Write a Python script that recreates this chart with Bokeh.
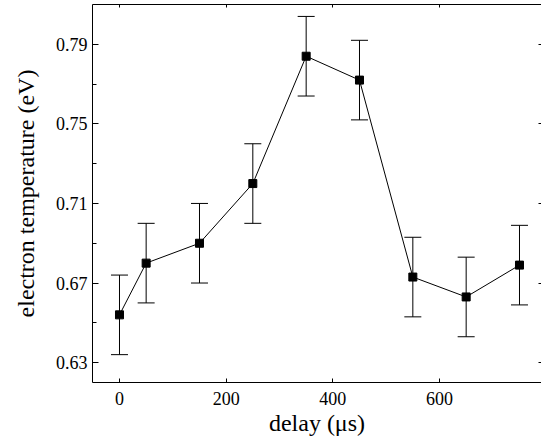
from bokeh.plotting import figure
from bokeh.models import (ColumnDataSource, Whisker, TeeHead, FixedTicker,
                          LinearAxis, PrintfTickFormatter, Range1d)
from bokeh.embed import file_html
from bokeh.resources import INLINE

# data
delay = [0, 50, 150, 250, 350, 450, 550, 650, 750]
temperature = [0.654, 0.680, 0.690, 0.720, 0.784, 0.772, 0.673, 0.663, 0.679]
error = [0.020, 0.020, 0.020, 0.020, 0.020, 0.020, 0.020, 0.020, 0.020]

x_ticks = [0, 200, 400, 600]
y_ticks = [0.63, 0.67, 0.71, 0.75, 0.79]
y_minor = [0.65, 0.69, 0.73, 0.77]

src = ColumnDataSource(data=dict(
    x=delay, y=temperature,
    upper=[t + e for t, e in zip(temperature, error)],
    lower=[t - e for t, e in zip(temperature, error)],
))

FONT = "'Liberation Serif', 'Times New Roman', serif"

p = figure(width=541, height=438, output_backend="svg", toolbar_location=None,
           x_range=Range1d(-50.6, 791.25), y_range=Range1d(0.62, 0.81),
           min_border_left=92, min_border_right=0, min_border_top=4,
           min_border_bottom=54, background_fill_color="white",
           border_fill_color="white")
p.outline_line_color = None
p.grid.visible = False

# error bars
wh = Whisker(source=src, base="x", upper="upper", lower="lower",
             line_color="black", line_width=1,
             upper_head=TeeHead(size=17, line_color="black", line_width=1),
             lower_head=TeeHead(size=17, line_color="black", line_width=1))
p.add_layout(wh)

p.line("x", "y", source=src, line_color="black", line_width=1)
p.scatter("x", "y", source=src, marker="square", size=8,
          fill_color="black", line_color="black")

# bottom axis
xa = p.xaxis[0]
xa.ticker = FixedTicker(ticks=x_ticks)
xa.major_tick_in = 4
xa.major_tick_out = 0
xa.minor_tick_in = 0
xa.minor_tick_out = 0
xa.major_label_standoff = 9
xa.major_label_text_font = FONT
xa.major_label_text_font_size = "18px"
xa.major_label_text_color = "black"
xa.axis_label = "delay (μs)"
xa.axis_label_text_font = FONT
xa.axis_label_text_font_size = "24px"
xa.axis_label_text_font_style = "normal"
xa.axis_label_text_color = "black"
xa.axis_label_standoff = 2
xa.axis_line_color = "black"
xa.major_tick_line_color = "black"

# left axis
ya = p.yaxis[0]
ya.ticker = FixedTicker(ticks=y_ticks, minor_ticks=y_minor)
ya.formatter = PrintfTickFormatter(format="%.2f")
ya.major_tick_in = 6
ya.major_tick_out = 0
ya.minor_tick_in = 4
ya.minor_tick_out = 0
ya.major_label_standoff = 5
ya.major_label_text_font = FONT
ya.major_label_text_font_size = "18px"
ya.major_label_text_color = "black"
ya.axis_label = "electron temperature (eV)"
ya.axis_label_text_font = FONT
ya.axis_label_text_font_size = "24px"
ya.axis_label_text_font_style = "normal"
ya.axis_label_text_color = "black"
ya.axis_label_standoff = 14
ya.axis_line_color = "black"
ya.major_tick_line_color = "black"
ya.minor_tick_line_color = "black"

# top axis (ticks only)
ta = LinearAxis(ticker=FixedTicker(ticks=x_ticks), major_tick_in=3,
                major_tick_out=0, minor_tick_in=0, minor_tick_out=0,
                major_label_text_font_size="1px", major_label_text_color=None,
                major_label_standoff=0,
                axis_line_color="black", major_tick_line_color="black")
p.add_layout(ta, "above")

# right axis (ticks only, no line: border cut off in reference)
ra = LinearAxis(ticker=FixedTicker(ticks=y_ticks), major_tick_in=3,
                major_tick_out=0, minor_tick_in=0, minor_tick_out=0,
                major_label_text_font_size="1px", major_label_text_color=None,
                major_label_standoff=0,
                axis_line_color=None, major_tick_line_color="black")
p.add_layout(ra, "right")

open("out.html", "w").write(file_html(p, INLINE))
